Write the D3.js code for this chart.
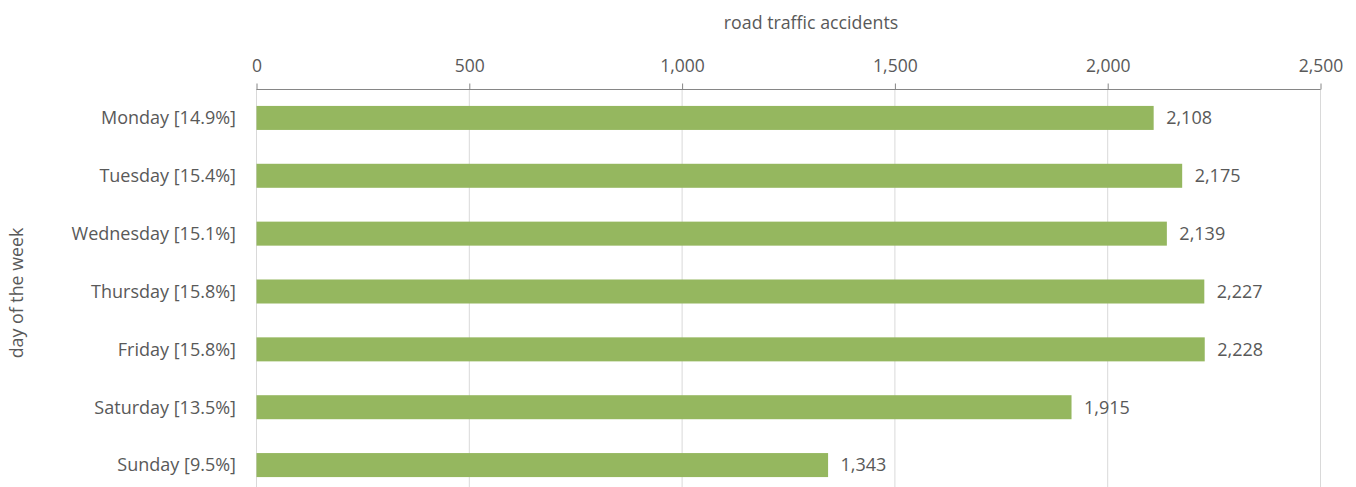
<!DOCTYPE html>
<html>
<head>
<meta charset="utf-8">
<script src="https://cdn.jsdelivr.net/npm/d3@7"></script>
<style>
  body { margin: 0; background: #fff; }
  text { font-family: "Open Sans", "Liberation Sans", sans-serif; fill: #595959; }
</style>
</head>
<body>
<div id="chart"></div>
<script>
var width = 1356, height = 487;

var days = ['Monday [14.9%]', 'Tuesday [15.4%]', 'Wednesday [15.1%]', 'Thursday [15.8%]',
            'Friday [15.8%]', 'Saturday [13.5%]', 'Sunday [9.5%]'];
var accidents = [2108, 2175, 2139, 2227, 2228, 1915, 1343];
var xTicks = [0, 500, 1000, 1500, 2000, 2500];

var margin = {top: 89, left: 256, right: 36, bottom: -7};

var x = d3.scaleLinear()
    .domain([0, 2500])
    .range([margin.left, width - margin.right]);

var y = d3.scaleBand()
    .domain(days)
    .range([margin.top, height - margin.bottom])
    .paddingInner(0.585)
    .paddingOuter(0.2925);

var svg = d3.select('#chart').append('svg')
    .attr('width', width)
    .attr('height', height);

// gridlines
svg.selectAll('line.grid')
  .data(xTicks).enter()
  .append('line')
  .classed('grid', true)
  .attr('x1', function(d) { return x(d) + 0.5; })
  .attr('x2', function(d) { return x(d) + 0.5; })
  .attr('y1', margin.top)
  .attr('y2', height)
  .attr('stroke', '#d9d9d9')
  .attr('stroke-width', 1);

// top axis
var axis = svg.append('g')
    .attr('transform', 'translate(0.5,' + (margin.top + 0.5) + ')')
    .call(d3.axisTop(x).tickValues(xTicks).tickSize(6).tickPadding(12)
      .tickFormat(d3.format(',')));
axis.select('.domain').attr('stroke', '#868686').attr('d', 'M' + x(0) + ',0H' + x(2500));
axis.selectAll('.tick line').attr('stroke', '#868686');
axis.selectAll('.tick text')
  .attr('fill', '#595959')
  .style('font-size', '17.5px')
  .style('font-family', '"Open Sans", "Liberation Sans", sans-serif');

// bars
svg.selectAll('rect.bar')
  .data(accidents).enter()
  .append('rect')
  .classed('bar', true)
  .attr('x', x(0) + 0.5)
  .attr('y', function(d, i) { return y(days[i]); })
  .attr('width', function(d) { return x(d) - x(0); })
  .attr('height', y.bandwidth())
  .attr('fill', '#95b75f');

// value labels
svg.selectAll('text.value')
  .data(accidents).enter()
  .append('text')
  .classed('value', true)
  .attr('x', function(d) { return x(d) + 13; })
  .attr('y', function(d, i) { return y(days[i]) + y.bandwidth() / 2; })
  .attr('dy', '0.35em')
  .style('font-size', '18px')
  .text(function(d) { return d3.format(',')(d); });

// category labels
svg.selectAll('text.cat')
  .data(days).enter()
  .append('text')
  .classed('cat', true)
  .attr('x', margin.left - 20)
  .attr('y', function(d) { return y(d) + y.bandwidth() / 2; })
  .attr('dy', '0.35em')
  .attr('text-anchor', 'end')
  .style('font-size', '18px')
  .text(function(d) { return d; });

// axis titles
svg.append('text')
  .attr('x', 811)
  .attr('y', 29)
  .attr('text-anchor', 'middle')
  .style('font-size', '17.8px')
  .text('road traffic accidents');

svg.append('text')
  .attr('transform', 'translate(23,293) rotate(-90)')
  .attr('text-anchor', 'middle')
  .style('font-size', '17.8px')
  .text('day of the week');
</script>
</body>
</html>
